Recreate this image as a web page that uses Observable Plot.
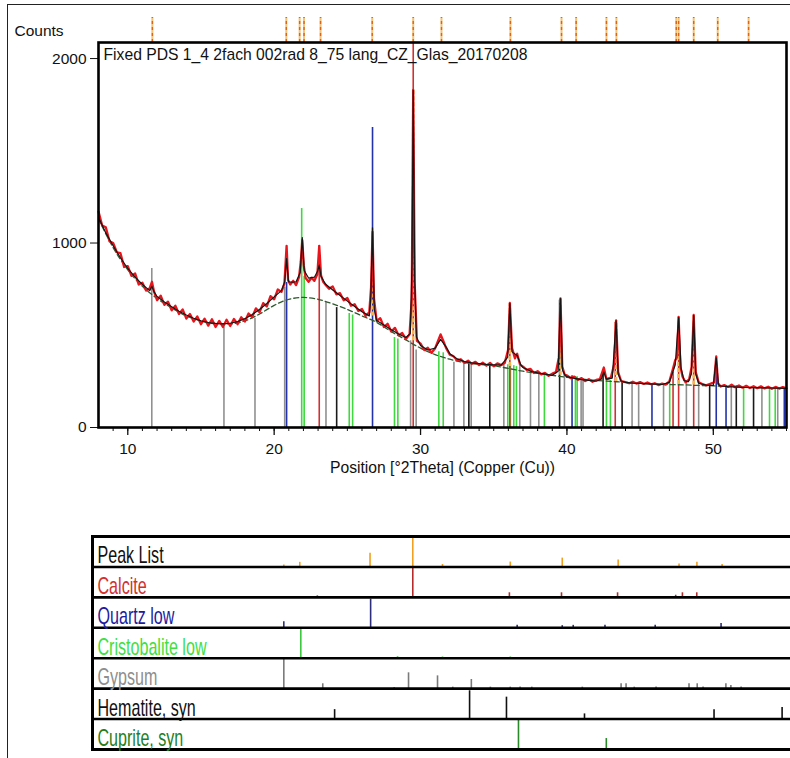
<!DOCTYPE html>
<html>
<head>
<meta charset="utf-8">
<script src="https://cdn.jsdelivr.net/npm/d3@7"></script>
<script src="https://cdn.jsdelivr.net/npm/@observablehq/plot@0.6"></script>
<style>
  body { margin: 0; background: #fff; }
  #wrap { position: relative; width: 790px; height: 758px; overflow: hidden; background: #fff; }
  #main, #bottom { position: absolute; left: 0; }
  #main { top: 0; }
  #bottom { top: 530px; }
  #border { position: absolute; left: 7px; top: 4px; width: 800px; height: 800px;
            border-left: 1.5px solid #222; border-top: 1.5px solid #222; pointer-events: none; }
</style>
</head>
<body>
<div id="wrap">
  <div id="main"></div>
  <div id="bottom"></div>
  <div id="border"></div>
</div>
<script>
// ---------- DATA ----------
const title = "Fixed PDS 1_4 2fach 002rad 8_75 lang_CZ_Glas_20170208";
const yLabel = "Counts";
const xLabel = "Position [°2Theta] (Copper (Cu))";
const xDomain = [8, 55];
const yDomain = [0, 2087];
const yTicks = [0, 1000, 2000];
const xMajorTicks = [10, 20, 30, 40, 50];

// measured pattern (red), [2theta, counts]
const measured = [
[8.00,1170],[8.25,1095],[8.50,1085],[8.75,1010],[9.00,1000],[9.25,950],[9.50,945],[9.75,870],[10.00,875],[10.25,822],[10.50,835],[10.75,775],[11.00,785],[11.25,742],[11.50,755],[11.65,790],[11.80,735],[12.00,690],[12.25,715],[12.50,665],[12.75,682],[13.00,635],[13.25,660],[13.50,615],[13.75,640],[14.00,590],[14.25,615],[14.50,574],[14.75,602],[15.00,560],[15.25,590],[15.50,552],[15.75,587],[16.00,545],[16.25,578],[16.50,545],[16.75,584],[17.00,550],[17.25,588],[17.50,560],[17.75,598],[18.00,574],[18.25,618],[18.50,598],[18.75,646],[19.00,625],[19.25,674],[19.50,656],[19.75,712],[20.00,695],[20.25,748],[20.50,735],[20.70,780],[20.85,985],[20.95,800],[21.10,775],[21.30,795],[21.50,772],[21.70,815],[21.82,900],[21.92,1015],[22.02,880],[22.15,810],[22.35,790],[22.55,812],[22.75,795],[22.95,830],[23.08,985],[23.20,825],[23.35,790],[23.55,770],[23.75,752],[24.00,765],[24.25,722],[24.50,728],[24.75,690],[25.00,702],[25.25,660],[25.50,668],[25.75,632],[26.00,642],[26.25,605],[26.50,625],[26.62,760],[26.72,1060],[26.82,700],[27.00,578],[27.25,592],[27.50,545],[27.75,562],[28.00,520],[28.25,540],[28.50,500],[28.75,512],[29.00,480],[29.25,505],[29.40,700],[29.50,1830],[29.60,780],[29.75,470],[30.00,455],[30.25,420],[30.50,432],[30.75,405],[31.00,430],[31.20,470],[31.37,505],[31.55,470],[31.75,430],[32.00,395],[32.25,386],[32.50,365],[32.75,370],[33.00,350],[33.25,362],[33.50,345],[33.75,356],[34.00,338],[34.25,352],[34.50,335],[34.75,350],[35.00,332],[35.25,348],[35.50,338],[35.75,350],[35.98,420],[36.10,675],[36.25,430],[36.45,375],[36.60,400],[36.80,340],[37.00,330],[37.25,312],[37.50,318],[37.75,295],[38.00,305],[38.25,288],[38.50,296],[38.75,280],[39.00,292],[39.25,300],[39.45,380],[39.56,700],[39.68,330],[39.85,285],[40.00,282],[40.25,268],[40.50,276],[40.75,258],[41.00,268],[41.25,252],[41.50,262],[41.75,248],[42.00,258],[42.25,262],[42.52,325],[42.70,262],[43.00,270],[43.22,340],[43.36,580],[43.50,300],[43.70,252],[44.00,246],[44.25,240],[44.50,248],[44.75,238],[45.00,246],[45.25,236],[45.50,244],[45.75,234],[46.00,240],[46.25,230],[46.50,238],[46.75,232],[47.00,250],[47.25,320],[47.40,365],[47.52,380],[47.63,600],[47.75,330],[47.90,275],[48.10,245],[48.35,260],[48.52,330],[48.66,610],[48.80,300],[49.00,245],[49.25,236],[49.50,228],[49.75,236],[50.05,245],[50.20,385],[50.32,240],[50.50,222],[50.75,230],[51.00,220],[51.25,232],[51.50,218],[51.75,228],[52.00,216],[52.25,226],[52.50,214],[52.75,224],[53.00,213],[53.25,223],[53.50,212],[53.75,221],[54.00,210],[54.25,220],[54.50,211],[54.75,219],[55.00,212]
];

// calculated profile (black)
const fitted = [
[8.0,1140],[8.5,1055],[9.0,985],[9.5,920],[10.0,862],[10.5,815],[11.0,775],[11.5,742],[11.65,765],[11.8,735],[12.0,710],[12.5,680],[13.0,655],[13.5,630],[14.0,610],[14.5,592],[15.0,578],[15.5,569],[16.0,564],[16.5,562],[17.0,565],[17.5,574],[18.0,590],[18.5,612],[19.0,640],[19.5,672],[20.0,708],[20.5,742],[20.72,790],[20.85,915],[20.98,790],[21.25,788],[21.5,790],[21.78,840],[21.92,1030],[22.06,850],[22.35,810],[22.75,815],[22.98,850],[23.08,880],[23.2,820],[23.5,778],[24.0,745],[24.5,715],[25.0,685],[25.5,656],[26.0,628],[26.5,605],[26.6,700],[26.72,1084],[26.84,640],[27.0,580],[27.5,555],[28.0,530],[28.5,507],[29.0,488],[29.3,510],[29.42,900],[29.5,1827],[29.6,800],[29.72,490],[30.0,445],[30.5,420],[31.0,430],[31.37,478],[31.8,430],[32.0,400],[32.5,372],[33.0,357],[33.5,350],[34.0,346],[34.5,342],[35.0,340],[35.5,338],[35.95,380],[36.1,672],[36.25,410],[36.6,390],[36.85,340],[37.0,325],[37.5,306],[38.0,296],[38.5,289],[39.0,283],[39.4,305],[39.56,699],[39.7,310],[39.9,280],[40.0,276],[40.5,266],[41.0,260],[41.5,255],[42.0,251],[42.35,262],[42.52,300],[42.7,262],[43.1,268],[43.36,578],[43.5,290],[43.7,252],[44.0,245],[44.5,241],[45.0,239],[45.5,237],[46.0,235],[46.5,233],[47.0,245],[47.4,340],[47.63,596],[47.8,320],[48.0,255],[48.3,248],[48.5,290],[48.66,607],[48.8,290],[49.0,240],[49.5,230],[50.0,228],[50.2,378],[50.35,232],[50.5,225],[51.0,222],[52.0,218],[53.0,216],[54.0,214],[55.0,212]
];

// background (dashed)
const background = [
[8,1130],[9,975],[10,855],[11,765],[12,700],[13,648],[14,605],[15,578],[16,563],[17,562],[18,578],[19,615],[20,662],[21,695],[22,705],[23,695],[24,670],[25,640],[26,605],[27,570],[28,520],[29,475],[30,430],[31,395],[32,370],[33,352],[34,342],[35,335],[36,320],[37,305],[38,293],[39,283],[40,272],[41,262],[42,255],[43,250],[44,245],[45,240],[46,236],[47,233],[48,231],[49,228],[50,226],[51,222],[52,219],[53,216],[54,214],[55,212]
];

// reference sticks in the main graph, [2theta, top counts]
const gypsumMain = [[11.64,862],[16.57,545],[18.69,592],[20.72,760],[23.54,677],[29.32,470],[29.7,420],[32.28,354],[32.96,345],[33.46,343],[35.69,340],[36.78,330],[37.51,310],[38.08,300],[39.83,285],[40.97,265],[41.1,263],[44.45,245],[44.9,242],[46.6,235],[48.16,245],[49.0,240],[51.23,226],[53.32,218],[54.4,215]];
const hematiteMain = [[24.27,650],[33.3,345],[34.73,340],[39.5,690],[42.47,300],[43.77,250],[49.75,232],[51.57,225],[52.75,220]];
const calciteMain = [[23.08,986],[29.5,2087],[36.1,665],[43.3,570],[47.25,300],[47.63,596],[48.66,607]];
const quartzMain = [[20.85,786],[26.72,1626],[40.35,280],[45.81,238],[50.2,380],[50.87,228],[54.85,215]];
const cristobaliteMain = [[21.88,1187],[22.05,820],[25.13,618],[25.36,610],[28.22,488],[28.45,480],[31.25,410],[31.55,405],[35.96,340],[36.14,340],[36.37,335],[36.55,330],[38.46,290],[40.58,275],[40.7,275],[42.7,255],[42.97,255],[47.02,240],[52.07,222],[53.84,216],[54.23,216]];

// peak-list markers drawn on the pattern, [2theta, from counts, to counts]
const patternPeakMarks = [[26.72,605,1084],[29.5,470,1827],[36.1,330,672],[39.56,283,699],[43.36,250,578],[47.63,233,596],[48.66,231,607]];

// peak list positions (orange ticks above the graph)
const peakList = [11.68,20.83,21.74,22.04,23.17,26.7,29.5,31.43,36.14,39.63,40.63,42.7,43.38,47.47,47.63,48.66,50.3,52.41];

// lower panel: rows, colours, sticks [2theta, relative height]
const rowNames = ["Peak List","Calcite","Quartz low","Cristobalite low","Gypsum","Hematite, syn","Cuprite, syn"];
const rowLabelColors = ["#111111","#d23030","#1c1ca0","#3fe03f","#8e8e8e","#111111","#1f7f1f"];
const rowStickColors = ["#f0a020","#b52a2a","#2e2e7e","#3cc83c","#7a7a7a","#111111","#2a8a2a"];
const rowSticks = [
  [[20.66,0.06],[21.75,0.15],[26.55,0.45],[29.47,1.0],[31.5,0.08],[36.13,0.16],[39.68,0.29],[43.5,0.23],[47.66,0.1],[48.88,0.15],[50.6,0.08]],
  [[22.95,0.05],[29.47,1.0],[36.07,0.15],[39.63,0.15],[43.46,0.15],[47.43,0.07],[47.89,0.15],[48.87,0.15]],
  [[20.66,0.2],[26.59,0.94],[36.6,0.08],[39.68,0.07],[40.43,0.08],[42.6,0.08],[46.03,0.08],[50.53,0.14]],
  [[21.82,0.97],[28.43,0.05],[31.5,0.04],[36.13,0.04]],
  [[20.66,1.0],[23.32,0.16],[28.2,0.04],[29.18,0.52],[31.16,0.42],[32.2,0.05],[33.47,0.3],[34.77,0.05],[36.13,0.05],[36.8,0.05],[37.6,0.05],[41.05,0.05],[43.7,0.16],[44.04,0.16],[44.6,0.05],[46.09,0.05],[48.34,0.16],[48.9,0.16],[49.3,0.05],[50.86,0.16],[51.2,0.1],[51.9,0.05]],
  [[24.13,0.31],[33.35,0.93],[35.87,0.72],[41.2,0.17],[50.05,0.31],[54.7,0.38]],
  [[36.69,1.0],[42.69,0.36]]
];

// ---------- MAIN GRAPH ----------
const FONT = "'Liberation Sans', Arial, Helvetica, sans-serif";
const stick = (arr, color) => Plot.ruleX(arr, {x: d => d[0], y1: 0, y2: d => d[1], stroke: color, strokeWidth: 1.6});
const tickTop = yDomain[1] * 1.065;

const main = Plot.plot({
  width: 790,
  height: 492,
  marginLeft: 98,
  marginRight: 4,
  marginTop: 42,
  marginBottom: 65,
  style: {fontFamily: FONT, fontSize: "15.5px", color: "#111", background: "transparent", overflow: "visible"},
  x: {domain: xDomain, ticks: d3.range(9, 56), tickFormat: d => d % 10 === 0 ? String(d) : "", tickSize: 4, tickPadding: 11, label: null},
  y: {domain: yDomain, ticks: yTicks, tickFormat: d => String(d), tickSize: 8, tickPadding: 4, label: null},
  marks: [
    stick(gypsumMain, "#909090"),
    stick(hematiteMain, "#1a1a1a"),
    stick(cristobaliteMain, "#3fd83f"),
    stick(quartzMain, "#2233aa"),
    stick(calciteMain, "#d23030"),
    Plot.line(background, {x: d => d[0], y: d => d[1], stroke: "#2f5a2f", strokeWidth: 1.3, strokeDasharray: "5,3", curve: "monotone-x"}),
    Plot.ruleX(patternPeakMarks, {x: d => d[0], y1: d => d[1], y2: d => d[2], stroke: "#f5b650", strokeWidth: 2.6, strokeDasharray: "4,2"}),
    Plot.line(measured, {x: d => d[0], y: d => d[1], stroke: "#e8161c", strokeWidth: 2.3}),
    Plot.line(fitted, {x: d => d[0], y: d => d[1], stroke: "#151515", strokeWidth: 1.2}),
    Plot.ruleX(xMajorTicks, {x: d => d, y1: 0, y2: 0, insetTop: 8, stroke: "#111", strokeWidth: 1.3}),
    Plot.ruleX(peakList, {x: d => d, y1: yDomain[1], y2: tickTop, stroke: "#f4c27a", strokeWidth: 2}),
    Plot.ruleX(peakList, {x: d => d, y1: yDomain[1], y2: tickTop, stroke: "#d9661a", strokeWidth: 1.4, strokeDasharray: "3,3"}),
    Plot.frame({stroke: "#000", strokeWidth: 2.6}),
    Plot.text([title], {text: d => d, frameAnchor: "top-left", dx: 5, dy: 6, lineAnchor: "top", textAnchor: "start", fill: "#111", fontSize: 15.7}),
    Plot.text([yLabel], {text: d => d, frameAnchor: "top-left", dx: -84, dy: -11, lineAnchor: "middle", textAnchor: "start", fill: "#111", fontSize: 15.5}),
    Plot.text([xLabel], {text: d => d, frameAnchor: "bottom", dy: 40, lineAnchor: "middle", textAnchor: "middle", fill: "#111", fontSize: 15.7})
  ]
});
document.getElementById("main").appendChild(main);

// ---------- LOWER PANEL ----------
const bottomMarks = [];
rowSticks.forEach((arr, i) => {
  bottomMarks.push(Plot.ruleX(arr, {x: d => d[0], y1: i + 1, y2: d => i + 1 - d[1], stroke: rowStickColors[i], strokeWidth: 1.6}));
});
bottomMarks.push(Plot.ruleY(d3.range(1, rowNames.length), {y: d => d, stroke: "#000", strokeWidth: 2.6, insetLeft: -6, insetRight: -8}));
bottomMarks.push(Plot.frame({stroke: "#000", strokeWidth: 3, insetLeft: -6, insetRight: -8}));
rowNames.forEach((name, i) => {
  bottomMarks.push(Plot.text([name], {text: d => d, y: () => i + 0.5, frameAnchor: "left", textAnchor: "start", dx: -1, dy: 4,
    fill: rowLabelColors[i], fontSize: 24}));
});

const bottom = Plot.plot({
  width: 790,
  height: 224,
  marginLeft: 98,
  marginRight: 4,
  marginTop: 6,
  marginBottom: 5,
  style: {fontFamily: FONT, background: "transparent", overflow: "visible"},
  x: {domain: xDomain, axis: null},
  y: {domain: [0, rowNames.length], reverse: true, axis: null},
  marks: bottomMarks
});
document.getElementById("bottom").appendChild(bottom);

// the row labels use a narrow face: compress them horizontally
bottom.querySelectorAll("text").forEach(t => {
  const w = t.getComputedTextLength();
  t.setAttribute("textLength", (w * 0.67).toFixed(1));
  t.setAttribute("lengthAdjust", "spacingAndGlyphs");
});
</script>
</body>
</html>
